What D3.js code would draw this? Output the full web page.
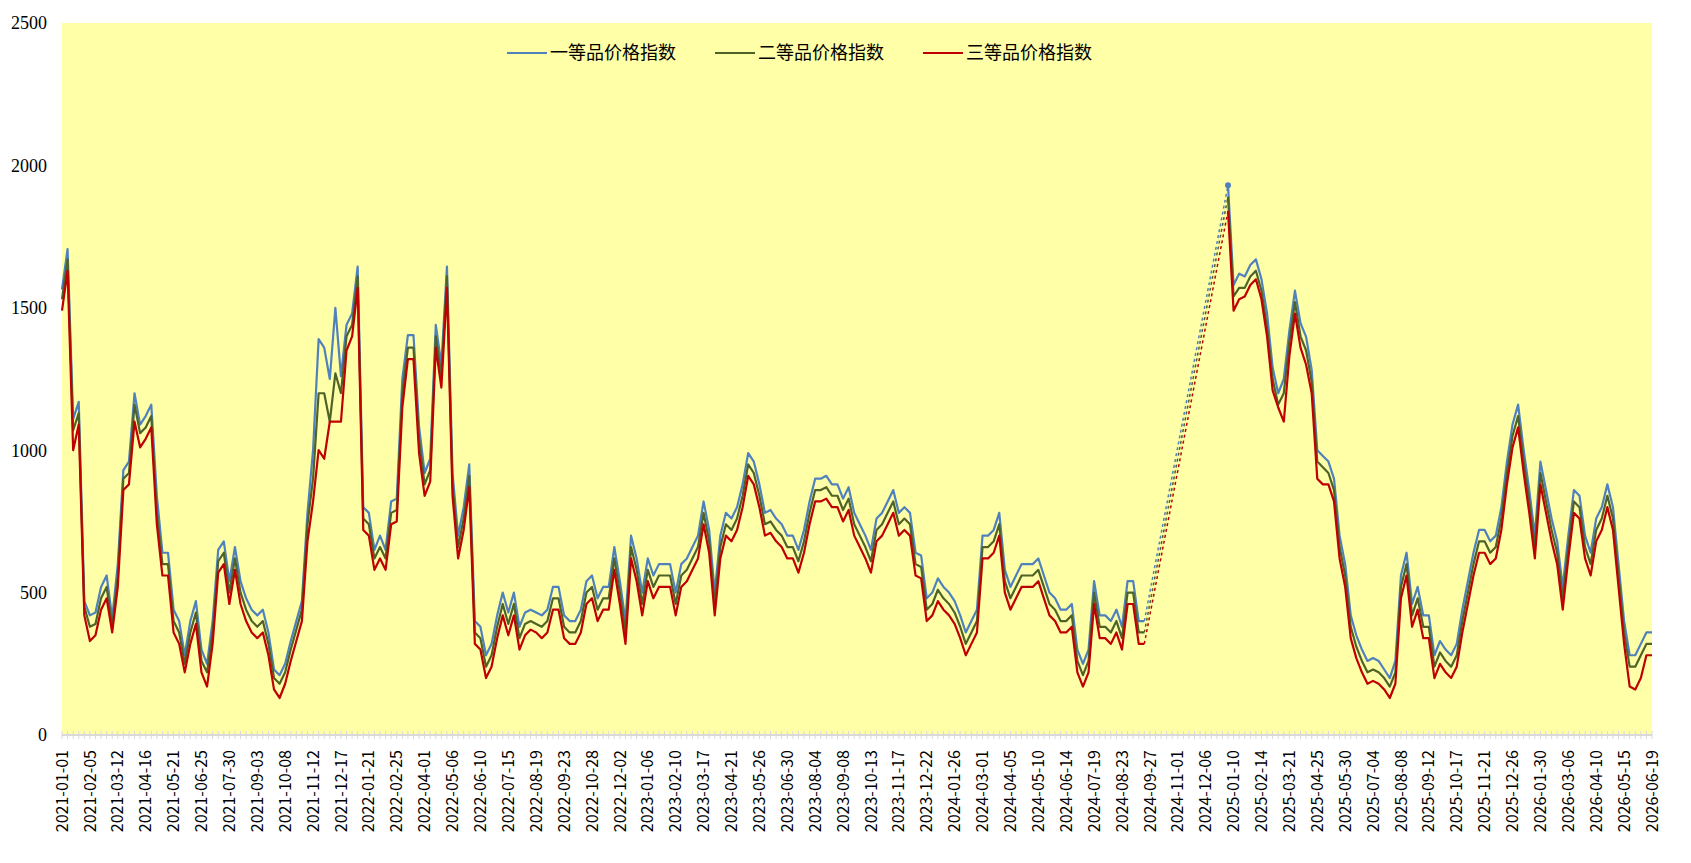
<!DOCTYPE html>
<html>
<head>
<meta charset="utf-8">
<script src="https://cdn.jsdelivr.net/npm/d3@7"></script>
<style>
  body { margin: 0; background: #fff; }
  svg { display: block; }
</style>
</head>
<body>
<div id="chart"></div>
<script>
// weekly prices, first value on 2021-01-01, one value every 7 days
var firstDay = "2021-01-01";
var stepDays = 7;

var seriesNames = ["一等品价格指数", "二等品价格指数", "三等品价格指数"];

var tickLabels = ["2021-01-01","2021-02-05","2021-03-12","2021-04-16","2021-05-21","2021-06-25","2021-07-30","2021-09-03","2021-10-08","2021-11-12","2021-12-17","2022-01-21","2022-02-25","2022-04-01","2022-05-06","2022-06-10","2022-07-15","2022-08-19","2022-09-23","2022-10-28","2022-12-02","2023-01-06","2023-02-10","2023-03-17","2023-04-21","2023-05-26","2023-06-30","2023-08-04","2023-09-08","2023-10-13","2023-11-17","2023-12-22","2024-01-26","2024-03-01","2024-04-05","2024-05-10","2024-06-14","2024-07-19","2024-08-23","2024-09-27","2024-11-01","2024-12-06","2025-01-10","2025-02-14","2025-03-21","2025-04-25","2025-05-30","2025-07-04","2025-08-08","2025-09-12","2025-10-17","2025-11-21","2025-12-26","2026-01-30","2026-03-06","2026-04-10","2026-05-15","2026-06-19"];

var yTicks = [0, 500, 1000, 1500, 2000, 2500];

var grade1 = [
  1565,1706,1110,1170,470, 420,430,520,560,410, 600,930,960,1200,1090, 1120,1160,840,640,640,
  440,400,280,400,470, 300,250,400,650,680, 540,660,540,480,440, 420,440,360,230,210,
  250,330,400,470,780, 1000,1390,1360,1250,1500, 1260,1440,1480,1645,800, 780,650,700,650,820,
  830,1250,1404,1404,1083, 920,970,1440,1300,1645, 920,700,800,950,400, 380,280,320,420,500,
  430,500,380,430,440, 430,420,440,520,520, 420,400,400,440,540, 560,480,520,520,660,
  540,400,700,620,500, 620,560,600,600,600, 500,600,620,660,700, 820,720,500,700,780,
  760,800,880,990,960, 880,780,790,760,740, 700,700,650,720,820, 900,900,910,880,880,
  830,870,780,740,700, 650,760,780,820,860, 780,800,780,640,630, 480,500,550,520,500,
  470,420,360,400,440, 700,700,720,780,580, 520,560,600,600,600, 620,560,500,480,440,
  440,460,300,250,300, 540,420,420,400,440, 380,540,540,400,400,
  null,null,null,null,null,null,null,null,null,null,null,null,null,null,
  1930, 1580,1620,1610,1650,1670, 1600,1480,1290,1200,1250, 1420,1560,1446,1398,1282,
  1000,980,960,900,700, 600,420,350,300,260, 270,260,230,200,260, 560,640,460,520,420,
  420,280,330,300,280, 320,440,540,640,720, 720,680,700,800,960, 1090,1160,1000,860,700,
  960,860,760,680,520, 700,860,840,700,640, 760,800,880,800,600, 400,280,280,320,360,360
];

var grade2 = [
  1530,1670,1070,1130,450, 380,390,480,520,380, 560,900,920,1160,1060, 1080,1120,780,600,600,
  400,360,250,360,430, 260,220,360,610,640, 500,620,500,440,400, 380,400,320,200,180,
  220,300,370,440,740, 900,1200,1200,1100,1270, 1200,1400,1440,1610,760, 740,620,660,620,780,
  790,1200,1360,1360,1040, 880,930,1400,1260,1610, 880,660,760,910,360, 340,240,280,380,460,
  390,460,340,390,400, 390,380,400,480,480, 380,360,360,400,500, 520,440,480,480,620,
  500,360,660,580,460, 580,520,560,560,560, 460,560,580,620,660, 780,680,460,660,740,
  720,760,840,950,920, 840,740,750,720,700, 660,660,610,680,780, 860,860,870,840,840,
  790,830,740,700,660, 610,720,740,780,820, 740,760,740,600,590, 440,460,510,480,460,
  430,380,320,360,400, 660,660,680,740,540, 480,520,560,560,560, 580,520,460,440,400,
  400,420,260,210,260, 500,380,380,360,400, 340,500,500,360,360,
  null,null,null,null,null,null,null,null,null,null,null,null,null,null,
  1890, 1540,1570,1570,1610,1630, 1560,1430,1250,1160,1200, 1380,1520,1400,1350,1240,
  960,940,920,860,660, 560,380,310,260,220, 230,220,200,170,220, 520,600,420,480,380,
  380,240,290,260,240, 280,400,500,600,680, 680,640,660,760,920, 1050,1120,960,820,660,
  920,820,720,640,480, 660,820,800,660,600, 720,760,840,760,560, 360,240,240,280,320,320
];

var grade3 = [
  1490,1630,1000,1090,420, 330,350,440,480,360, 520,860,880,1100,1010, 1040,1080,740,560,560,
  360,320,220,320,390, 220,170,320,570,600, 460,580,460,400,360, 340,360,280,160,130,
  180,260,330,400,680, 820,1000,970,1100,1100, 1100,1350,1400,1570,720, 700,580,620,580,740,
  750,1150,1320,1320,990, 840,890,1360,1220,1570, 840,620,720,870,320, 300,200,240,340,420,
  350,420,300,350,370, 360,340,360,440,440, 340,320,320,360,460, 480,400,440,440,580,
  460,320,620,540,420, 540,480,520,520,520, 420,520,540,580,620, 740,640,420,620,700,
  680,720,800,910,880, 800,700,710,680,660, 620,620,570,640,740, 820,820,830,800,800,
  750,790,700,660,620, 570,680,700,740,780, 700,720,700,560,550, 400,420,470,440,420,
  390,340,280,320,360, 620,620,640,700,500, 440,480,520,520,520, 540,480,420,400,360,
  360,380,220,170,220, 460,340,340,320,360, 300,460,460,320,320,
  null,null,null,null,null,null,null,null,null,null,null,null,null,null,
  1840, 1490,1530,1540,1580,1600, 1530,1400,1210,1150,1100, 1330,1480,1360,1300,1200,
  900,880,880,820,620, 520,340,270,220,180, 190,180,160,130,180, 480,560,380,440,340,
  340,200,250,220,200, 240,360,460,560,640, 640,600,620,720,880, 1010,1080,920,780,620,
  880,780,680,600,440, 620,780,760,620,560, 680,720,800,720,520, 320,170,160,200,280,280
];

var colors = ["#4f81bd", "#4f6228", "#c00000"];

var width = 1691, height = 863;
var plot = {left: 62, right: 1652, top: 23, bottom: 735};

var parse = d3.timeParse("%Y-%m-%d");
var start = parse(firstDay);
var dates = grade1.map(function(d, i) { return d3.timeDay.offset(start, i * stepDays); });

var x = d3.scaleTime()
  .domain([parse(tickLabels[0]), parse(tickLabels[tickLabels.length - 1])])
  .range([plot.left, plot.right]);
var y = d3.scaleLinear().domain([0, 2500]).range([plot.bottom, plot.top]);

var svg = d3.select("#chart").append("svg")
  .attr("width", width)
  .attr("height", height);

svg.append("rect")
  .attr("x", plot.left).attr("y", plot.top)
  .attr("width", plot.right - plot.left)
  .attr("height", plot.bottom - plot.top)
  .attr("fill", "#ffffa7");

// y labels, no axis line
svg.append("g")
  .selectAll("text")
  .data(yTicks)
  .enter().append("text")
  .attr("x", 47)
  .attr("y", function(d) { return y(d); })
  .attr("dy", "0.35em")
  .attr("text-anchor", "end")
  .style("font-family", "'Liberation Serif', 'Times New Roman', serif")
  .style("font-size", "18px")
  .style("fill", "#000")
  .text(function(d) { return d; });

// x axis: grey line with weekly ticks
var axisG = svg.append("g");
axisG.append("line")
  .attr("x1", plot.left).attr("x2", plot.right)
  .attr("y1", plot.bottom).attr("y2", plot.bottom)
  .attr("stroke", "#d9d9d9").attr("stroke-width", 2);
axisG.selectAll("line.minor")
  .data(dates)
  .enter().append("line")
  .attr("class", "minor")
  .attr("x1", function(d) { return x(d); })
  .attr("x2", function(d) { return x(d); })
  .attr("y1", plot.bottom - 4).attr("y2", plot.bottom + 4)
  .attr("stroke", "#d9d9d9").attr("stroke-width", 1);

axisG.selectAll("text")
  .data(tickLabels)
  .enter().append("text")
  .attr("transform", function(d) { return "translate(" + x(parse(d)) + "," + (plot.bottom + 15) + ")rotate(-90)"; })
  .attr("text-anchor", "end")
  .attr("dy", "0.35em")
  .style("font-family", "'Noto Sans CJK SC', sans-serif")
  .style("font-size", "16px")
  .style("fill", "#000")
  .text(function(d) { return d; });

// lines
var series = [grade1, grade2, grade3];
var line = d3.line()
  .defined(function(d) { return d.v != null; })
  .x(function(d) { return x(d.t); })
  .y(function(d) { return y(d.v); });

series.forEach(function(vals, s) {
  var pts = vals.map(function(v, i) { return {t: dates[i], v: v}; });
  // dashed link across the missing weeks
  var lastBefore = -1, firstAfter = -1;
  for (var i = 1; i < pts.length; i++) {
    if (pts[i].v == null && pts[i - 1].v != null) lastBefore = i - 1;
    if (pts[i].v != null && pts[i - 1].v == null) firstAfter = i;
  }
  if (lastBefore >= 0 && firstAfter >= 0) {
    svg.append("path")
      .datum([pts[lastBefore], pts[firstAfter]])
      .attr("d", line)
      .attr("fill", "none")
      .attr("stroke", colors[s])
      .attr("stroke-width", 1.5)
      .attr("stroke-dasharray", "3,3");
  }
  svg.append("path")
    .datum(pts)
    .attr("d", line)
    .attr("fill", "none")
    .attr("stroke", colors[s])
    .attr("stroke-width", 2.2)
    .attr("stroke-linejoin", "round");
  if (s === 0 && firstAfter >= 0) {
    svg.append("circle")
      .attr("cx", x(pts[firstAfter].t))
      .attr("cy", y(pts[firstAfter].v))
      .attr("r", 3)
      .attr("fill", colors[s]);
  }
});

// legend
var legendX = [507, 715, 923];
var legend = svg.append("g");
seriesNames.forEach(function(name, i) {
  legend.append("line")
    .attr("x1", legendX[i]).attr("x2", legendX[i] + 40)
    .attr("y1", 53).attr("y2", 53)
    .attr("stroke", colors[i]).attr("stroke-width", 2);
  legend.append("text")
    .attr("x", legendX[i] + 43)
    .attr("y", 53)
    .attr("dy", "0.35em")
    .style("font-family", "'Noto Sans CJK SC', sans-serif")
    .style("font-size", "18px")
    .style("fill", "#000")
    .text(name);
});
</script>
</body>
</html>
